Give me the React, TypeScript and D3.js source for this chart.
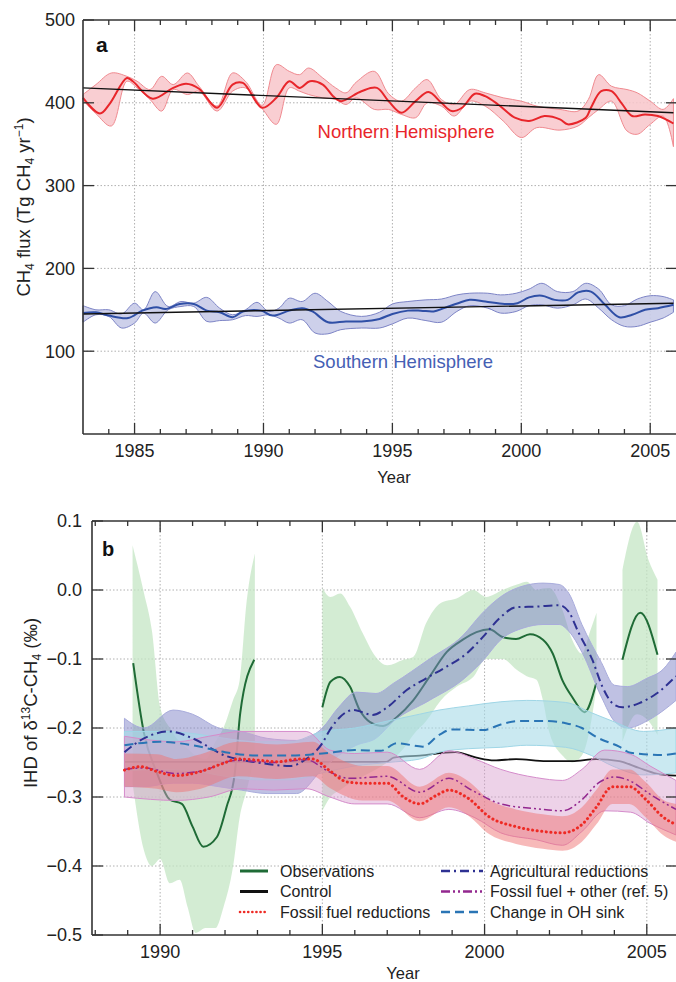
import React from 'react';
import * as d3 from 'd3';

// ---- panel a: CH4 flux, Tg CH4 per year ----
const NH_MEAN: [number, number][] = [
  [1983.0, 406], [1983.66, 387], [1984.04, 399], [1984.7, 430], [1984.93, 426], [1985.7, 405],
  [1986.5, 418], [1987.0, 423], [1987.5, 417], [1988.2, 394], [1988.8, 422], [1989.2, 424],
  [1989.95, 394], [1990.5, 406], [1991.0, 426], [1991.4, 418], [1991.8, 426], [1992.3, 422],
  [1992.7, 408], [1993.0, 402], [1993.8, 414], [1994.4, 418], [1994.85, 402], [1995.35, 388],
  [1995.9, 402], [1996.4, 413], [1996.9, 400], [1997.3, 390], [1997.7, 394], [1998.2, 411],
  [1998.6, 408], [1999.1, 398], [1999.75, 382], [2000.3, 378], [2000.9, 384], [2001.5, 380],
  [2001.8, 374], [2002.5, 382], [2002.7, 394], [2003.1, 414], [2003.5, 414], [2003.9, 399],
  [2004.3, 384], [2004.8, 386], [2005.3, 384], [2005.9, 375],
];
// [year, lower, upper]
const NH_BAND: [number, number, number][] = [
  [1983.0, 403, 410], [1983.5, 387, 422], [1984.1, 372, 436], [1984.7, 426, 432], [1985.1, 418, 426],
  [1985.6, 404, 416], [1986.05, 390, 432], [1986.5, 416, 422], [1987.05, 410, 436], [1987.5, 414, 420],
  [1988.2, 390, 396], [1988.8, 414, 436], [1989.3, 418, 426], [1989.95, 393, 397], [1990.5, 374, 446],
  [1991.0, 418, 438], [1991.4, 414, 434], [1991.75, 410, 442], [1992.3, 406, 430], [1992.8, 404, 418],
  [1993.2, 398, 412], [1993.6, 406, 425], [1994.3, 392, 438], [1994.85, 392, 411], [1995.35, 386, 402],
  [1995.9, 382, 418], [1996.35, 400, 428], [1996.9, 396, 404], [1997.4, 384, 398], [1998.0, 402, 416],
  [1998.6, 396, 412], [1999.3, 378, 406], [2000.0, 358, 402], [2000.6, 370, 396], [2001.5, 367, 392],
  [2002.2, 372, 390], [2002.6, 382, 404], [2003.0, 392, 434], [2003.5, 402, 420], [2004.1, 366, 416],
  [2004.5, 362, 412], [2005.0, 374, 402], [2005.5, 384, 392], [2005.9, 347, 405],
];
const NH_TREND: [number, number][] = [[1983, 418], [2005.9, 388]];

const SH_MEAN: [number, number][] = [
  [1983.0, 146], [1983.5, 147], [1984.0, 143], [1984.75, 140], [1985.3, 149], [1985.85, 153],
  [1986.2, 151], [1986.75, 157], [1987.3, 157], [1987.8, 149], [1988.3, 147], [1988.8, 141],
  [1989.2, 148], [1989.9, 149], [1990.35, 143], [1991.0, 149], [1991.5, 152], [1991.9, 148],
  [1992.5, 135], [1993.2, 136], [1993.8, 136], [1994.5, 139], [1995.0, 145], [1995.6, 149],
  [1996.1, 149], [1996.6, 148], [1997.0, 152], [1997.55, 158], [1998.0, 162], [1998.6, 160],
  [1999.35, 157], [1999.85, 158], [2000.3, 165], [2000.8, 167], [2001.3, 162], [2001.8, 162],
  [2002.2, 171], [2002.7, 172], [2003.25, 156], [2003.8, 141], [2004.3, 144], [2004.8, 150],
  [2005.3, 152], [2005.9, 156],
];
const SH_BAND: [number, number, number][] = [
  [1983.0, 135, 155], [1983.5, 144, 150], [1984.0, 142, 150], [1984.5, 128, 145], [1985.0, 134, 158],
  [1985.35, 146, 150], [1985.8, 134, 172], [1986.3, 150, 154], [1986.8, 154, 160], [1987.3, 154, 158],
  [1987.8, 136, 165], [1988.3, 137, 152], [1988.8, 138, 144], [1989.3, 143, 150], [1989.75, 142, 159],
  [1990.2, 144, 148], [1990.6, 140, 152], [1991.0, 134, 164], [1991.5, 138, 160], [1992.0, 122, 170],
  [1992.5, 121, 160], [1993.0, 126, 148], [1993.8, 128, 142], [1994.5, 128, 147], [1995.0, 133, 157],
  [1995.6, 140, 160], [1996.3, 137, 162], [1996.9, 135, 163], [1997.5, 148, 168], [1998.0, 155, 170],
  [1998.7, 152, 170], [1999.2, 146, 168], [1999.8, 148, 170], [2000.3, 155, 175], [2000.8, 156, 182],
  [2001.4, 152, 172], [2002.0, 156, 172], [2002.5, 163, 182], [2003.0, 152, 175], [2003.5, 138, 156],
  [2004.0, 130, 155], [2004.5, 130, 163], [2005.0, 135, 167], [2005.5, 140, 166], [2005.9, 147, 162],
];
const SH_TREND: [number, number][] = [[1983, 145], [2005.9, 158]];

const YEAR_TICKS_A = [1985, 1990, 1995, 2000, 2005];
const FLUX_TICKS = [100, 200, 300, 400, 500];

// ---- panel b: IHD of d13C-CH4, per mil ----
const OBS_LINE: [number, number][][] = [
  [[1989.17, -0.106], [1989.5, -0.207], [1989.9, -0.265], [1990.3, -0.304], [1990.67, -0.31],
   [1991.0, -0.343], [1991.33, -0.372], [1991.75, -0.358], [1992.05, -0.314], [1992.3, -0.266],
   [1992.47, -0.178], [1992.9, -0.101]],
  [[1995.0, -0.17], [1995.25, -0.133], [1995.54, -0.126], [1995.85, -0.14], [1996.15, -0.174],
   [1996.46, -0.191], [1996.87, -0.197], [1997.3, -0.184], [1997.8, -0.16], [1998.3, -0.126],
   [1998.83, -0.09], [1999.33, -0.072], [1999.75, -0.061], [2000.15, -0.057], [2000.55, -0.068],
   [2000.97, -0.071], [2001.4, -0.064], [2001.8, -0.072], [2002.1, -0.092], [2002.4, -0.131],
   [2002.7, -0.155], [2003.08, -0.177], [2003.44, -0.135]],
  [[2004.25, -0.101], [2004.8, -0.033], [2005.33, -0.094]],
];
const OBS_BAND: [number, number, number][][] = [
  [[1989.15, -0.28, 0.065], [1989.5, -0.377, -0.004], [1989.75, -0.4, -0.06], [1990.0, -0.39, -0.17],
   [1990.3, -0.425, -0.2], [1990.6, -0.42, -0.22], [1990.85, -0.46, -0.23], [1991.1, -0.497, -0.24],
   [1991.4, -0.49, -0.245], [1991.7, -0.49, -0.22], [1991.95, -0.46, -0.2], [1992.25, -0.4, -0.159],
   [1992.45, -0.33, -0.131], [1992.67, -0.29, -0.015], [1992.92, -0.24, 0.053]],
  [[1995.0, -0.32, 0.003], [1995.25, -0.3, -0.01], [1995.55, -0.29, -0.005], [1995.85, -0.28, -0.024],
   [1996.25, -0.27, -0.063], [1996.65, -0.26, -0.097], [1997.0, -0.25, -0.109], [1997.5, -0.23, -0.101],
   [1997.8, -0.21, -0.097], [1998.2, -0.19, -0.048], [1998.65, -0.16, -0.019], [1999.15, -0.14, -0.012],
   [1999.65, -0.126, 0.0], [2000.05, -0.1, -0.01], [2000.55, -0.1, 0.0], [2001.0, -0.116, 0.008],
   [2001.3, -0.125, 0.012], [2001.6, -0.13, 0.0], [2001.8, -0.16, 0.002], [2002.0, -0.207, 0.003],
   [2002.4, -0.24, -0.029], [2002.7, -0.25, -0.072], [2003.0, -0.24, -0.092], [2003.25, -0.2, -0.06],
   [2003.45, -0.14, -0.033]],
  [[2004.25, -0.22, 0.029], [2004.7, -0.18, 0.099], [2005.05, -0.19, 0.044], [2005.33, -0.21, 0.015]],
];

const CONTROL: [number, number][] = [
  [1988.9, -0.249], [1995.0, -0.249], [1996.97, -0.249], [1997.2, -0.243], [1998.0, -0.24],
  [1999.1, -0.235], [1999.75, -0.243], [2000.3, -0.247], [2000.97, -0.245], [2001.9, -0.248],
  [2002.7, -0.248], [2003.44, -0.245], [2004.15, -0.248], [2004.77, -0.258], [2005.3, -0.266],
  [2005.9, -0.269],
];

const AGRI: [number, number][] = [
  [1988.9, -0.235], [1989.5, -0.215], [1990.3, -0.205], [1991.0, -0.215], [1992.0, -0.24],
  [1993.0, -0.25], [1994.0, -0.255], [1994.5, -0.245], [1995.0, -0.222], [1995.23, -0.203],
  [1995.95, -0.174], [1996.55, -0.181], [1997.0, -0.17], [1997.6, -0.145], [1998.2, -0.128],
  [1998.83, -0.111], [1999.45, -0.092], [1999.95, -0.068], [2000.46, -0.041], [2000.97, -0.025],
  [2001.6, -0.024], [2002.3, -0.022], [2002.6, -0.032], [2002.9, -0.062], [2003.32, -0.101],
  [2003.63, -0.14], [2003.94, -0.164], [2004.25, -0.17], [2004.77, -0.164], [2005.3, -0.15],
  [2005.9, -0.125],
];
const AGRI_BAND: [number, number, number][] = [
  [1988.9, -0.285, -0.186], [1989.5, -0.285, -0.2], [1990.4, -0.28, -0.174], [1991.0, -0.28, -0.18],
  [1991.8, -0.285, -0.2], [1992.5, -0.29, -0.205], [1993.3, -0.295, -0.215], [1994.2, -0.295, -0.218],
  [1995.0, -0.26, -0.2], [1995.5, -0.24, -0.17], [1996.05, -0.225, -0.148], [1996.65, -0.215, -0.15],
  [1997.2, -0.19, -0.135], [1998.3, -0.16, -0.1], [1999.33, -0.13, -0.066], [1999.9, -0.105, -0.035],
  [2000.55, -0.07, -0.008], [2001.2, -0.055, 0.006], [2001.8, -0.05, 0.01], [2002.3, -0.05, 0.008],
  [2002.6, -0.06, -0.005], [2003.0, -0.09, -0.05], [2003.6, -0.155, -0.105], [2004.0, -0.19, -0.138],
  [2004.4, -0.2, -0.14], [2005.0, -0.19, -0.128], [2005.5, -0.175, -0.115], [2005.9, -0.16, -0.09],
];

const OH_SINK: [number, number][] = [
  [1988.9, -0.225], [1990.0, -0.22], [1991.0, -0.225], [1992.0, -0.235], [1993.0, -0.24],
  [1994.0, -0.24], [1995.0, -0.237], [1996.0, -0.232], [1996.8, -0.233], [1997.3, -0.222],
  [1998.1, -0.227], [1998.6, -0.21], [1999.0, -0.202], [1999.95, -0.203], [2000.5, -0.195],
  [2001.0, -0.19], [2001.9, -0.19], [2002.5, -0.193], [2003.0, -0.2], [2003.44, -0.213],
  [2004.15, -0.227], [2004.5, -0.236], [2005.5, -0.239], [2005.9, -0.237],
];
const OH_BAND: [number, number, number][] = [
  [1988.9, -0.262, -0.205], [1990.0, -0.26, -0.205], [1991.0, -0.262, -0.208], [1992.0, -0.27, -0.215],
  [1993.0, -0.275, -0.22], [1994.0, -0.275, -0.22], [1995.0, -0.265, -0.205], [1996.0, -0.255, -0.2],
  [1997.0, -0.25, -0.19], [1998.0, -0.245, -0.18], [1998.6, -0.235, -0.174], [1999.5, -0.23, -0.168],
  [2000.5, -0.228, -0.162], [2001.3, -0.225, -0.16], [2002.5, -0.228, -0.163], [2003.3, -0.24, -0.178],
  [2003.94, -0.255, -0.19], [2004.9, -0.268, -0.205], [2005.9, -0.265, -0.2],
];

const FOSSIL: [number, number][] = [
  [1988.9, -0.261], [1989.4, -0.256], [1989.9, -0.263], [1990.5, -0.269], [1991.25, -0.263],
  [1991.9, -0.252], [1992.4, -0.245], [1993.1, -0.247], [1993.6, -0.249], [1994.3, -0.245],
  [1994.7, -0.245], [1995.23, -0.262], [1995.75, -0.278], [1996.25, -0.28], [1997.0, -0.28],
  [1997.5, -0.3], [1998.0, -0.31], [1998.5, -0.298], [1998.9, -0.29], [1999.5, -0.302],
  [2000.15, -0.329], [2000.97, -0.343], [2001.8, -0.35], [2002.4, -0.352], [2003.0, -0.34],
  [2003.44, -0.315], [2003.94, -0.285], [2004.46, -0.285], [2004.98, -0.304], [2005.5, -0.329],
  [2005.9, -0.34],
];
const FOSSIL_BAND: [number, number, number][] = [
  [1988.9, -0.285, -0.237], [1989.9, -0.288, -0.238], [1990.5, -0.293, -0.245], [1991.25, -0.288, -0.238],
  [1992.4, -0.27, -0.22], [1993.6, -0.274, -0.224], [1994.7, -0.27, -0.22], [1995.23, -0.287, -0.237],
  [1996.25, -0.305, -0.255], [1997.0, -0.305, -0.255], [1998.0, -0.335, -0.285], [1998.9, -0.315, -0.265],
  [1999.5, -0.327, -0.277], [2000.15, -0.354, -0.304], [2000.97, -0.368, -0.318], [2001.8, -0.375, -0.325],
  [2002.4, -0.378, -0.328], [2003.0, -0.365, -0.315], [2003.44, -0.34, -0.29], [2003.94, -0.31, -0.26],
  [2004.46, -0.31, -0.26], [2004.98, -0.33, -0.279], [2005.5, -0.355, -0.304], [2005.9, -0.365, -0.31],
];

const FOSSIL_OTHER: [number, number][] = [
  [1988.9, -0.26], [1989.5, -0.258], [1990.5, -0.266], [1991.3, -0.262], [1992.3, -0.247],
  [1993.5, -0.25], [1994.5, -0.246], [1995.23, -0.264], [1995.85, -0.273], [1997.0, -0.27],
  [1998.0, -0.293], [1998.9, -0.273], [1999.6, -0.29], [2000.5, -0.31], [2001.6, -0.317],
  [2002.4, -0.32], [2003.0, -0.304], [2003.5, -0.28], [2004.0, -0.271], [2004.5, -0.277],
  [2005.1, -0.296], [2005.9, -0.318],
];
const FOSSIL_OTHER_BAND: [number, number, number][] = [
  [1988.9, -0.3, -0.212], [1990.5, -0.305, -0.22], [1991.5, -0.3, -0.212], [1992.5, -0.288, -0.205],
  [1993.5, -0.29, -0.205], [1994.5, -0.288, -0.205], [1995.23, -0.3, -0.232], [1996.0, -0.31, -0.237],
  [1997.0, -0.31, -0.235], [1998.0, -0.33, -0.26], [1998.9, -0.318, -0.233], [1999.7, -0.33, -0.245],
  [2000.5, -0.352, -0.26], [2001.6, -0.362, -0.272], [2002.4, -0.37, -0.276], [2003.0, -0.35, -0.26],
  [2003.7, -0.32, -0.232], [2004.5, -0.322, -0.238], [2005.1, -0.338, -0.255], [2005.9, -0.355, -0.276],
];

const YEAR_TICKS_B = [1990, 1995, 2000, 2005];
const IHD_TICKS = [-0.5, -0.4, -0.3, -0.2, -0.1, 0.0, 0.1];

const FONT = '"Liberation Sans", Arial, Helvetica, sans-serif';
const AXIS = '#333';
const GRID = '#b0b0b0';
const TICK_FS = 18;

type P = [number, number];
type B = [number, number, number];
type Lin = d3.ScaleLinear<number, number>;

function Grid({ x, y, xMajor, gridY }: { x: Lin; y: Lin; xMajor: number[]; gridY: number[] }) {
  const [x0, x1] = x.range();
  const [y0, y1] = y.range();
  return (
    <g>
      {xMajor.map(v => (
        <line key={'gx' + v} x1={x(v)} x2={x(v)} y1={y1} y2={y0} stroke={GRID} strokeWidth={1} strokeDasharray="1.5,2" />
      ))}
      {gridY.map(v => (
        <line key={'gy' + v} x1={x0} x2={x1} y1={y(v)} y2={y(v)} stroke={GRID} strokeWidth={1} strokeDasharray="1.5,2" />
      ))}
    </g>
  );
}

function Axes({ x, y, xMajor, yMajor, yFmt, minorFrom, minorTo, rightTicks, labelGap }: {
  x: Lin; y: Lin; xMajor: number[]; yMajor: number[]; yFmt: (v: number) => string;
  minorFrom: number; minorTo: number; rightTicks: number[]; labelGap: number;
}) {
  const [x0, x1] = x.range();
  const [y0, y1] = y.range();
  const minor = d3.range(minorFrom, minorTo + 1);
  return (
    <g fontFamily={FONT} fill="#222">
      <line x1={x0} x2={x1} y1={y0} y2={y0} stroke={AXIS} strokeWidth={1.6} />
      <line x1={x0} x2={x1} y1={y1} y2={y1} stroke={AXIS} strokeWidth={1.6} />
      <line x1={x0} x2={x0} y1={y0} y2={y1} stroke={AXIS} strokeWidth={1.6} />
      {minor.map(v => {
        const len = xMajor.includes(v) ? 11 : 5;
        return (
          <g key={'t' + v}>
            <line x1={x(v)} x2={x(v)} y1={y0} y2={y0 - len} stroke={AXIS} strokeWidth={1.3} />
            <line x1={x(v)} x2={x(v)} y1={y1} y2={y1 + len} stroke={AXIS} strokeWidth={1.3} />
          </g>
        );
      })}
      {xMajor.map(v => (
        <text key={'xl' + v} x={x(v)} y={y0 + 23} textAnchor="middle" fontSize={TICK_FS}>{v}</text>
      ))}
      {yMajor.map(v => (
        <g key={'yl' + v}>
          <line x1={x0} x2={x0 + 11} y1={y(v)} y2={y(v)} stroke={AXIS} strokeWidth={1.3} />
          <text x={x0 - labelGap} y={y(v)} dy="0.35em" textAnchor="end" fontSize={TICK_FS}>{yFmt(v)}</text>
        </g>
      ))}
      {rightTicks.map(v => (
        <line key={'r' + v} x1={x1 - 10} x2={x1} y1={y(v)} y2={y(v)} stroke={AXIS} strokeWidth={1.3} />
      ))}
    </g>
  );
}

function PanelA() {
  const x = d3.scaleLinear().domain([1983, 2006]).range([83, 676]);
  const y = d3.scaleLinear().domain([0, 500]).range([434, 20]);
  const line = d3.line<P>().x(d => x(d[0])).y(d => y(d[1])).curve(d3.curveCatmullRom.alpha(0.5));
  const area = d3.area<B>().x(d => x(d[0])).y0(d => y(d[1])).y1(d => y(d[2])).curve(d3.curveCatmullRom.alpha(0.5));
  const straight = d3.line<P>().x(d => x(d[0])).y(d => y(d[1]));
  return (
    <g>
      <Grid x={x} y={y} xMajor={YEAR_TICKS_A} gridY={[100, 200, 300, 400]} />
      <path d={area(NH_BAND) || ''} fill="#f8c6ca" fillOpacity={0.85} stroke="#f08a90" strokeWidth={1} />
      <path d={line(NH_MEAN) || ''} fill="none" stroke="#e8262b" strokeWidth={2} />
      <path d={straight(NH_TREND) || ''} fill="none" stroke="#111" strokeWidth={1.4} />
      <path d={area(SH_BAND) || ''} fill="#c8cbe8" fillOpacity={0.9} stroke="#7d84c6" strokeWidth={1} />
      <path d={line(SH_MEAN) || ''} fill="none" stroke="#2f4fa6" strokeWidth={2} />
      <path d={straight(SH_TREND) || ''} fill="none" stroke="#111" strokeWidth={1.4} />
      <Axes x={x} y={y} xMajor={YEAR_TICKS_A} yMajor={FLUX_TICKS} yFmt={String} minorFrom={1984} minorTo={2005}
        rightTicks={[100, 200, 300, 400]} labelGap={8} />
      <g fontFamily={FONT}>
        <text x={96} y={52} fontSize={21} fontWeight="bold" fill="#111">a</text>
        <text x={406} y={138} textAnchor="middle" fontSize={18.5} fill="#e8262b">Northern Hemisphere</text>
        <text x={403} y={368} textAnchor="middle" fontSize={18.5} fill="#4560b4">Southern Hemisphere</text>
        <text x={394} y={483} textAnchor="middle" fontSize={16.5} fill="#222">Year</text>
        <text transform="translate(30,207) rotate(-90)" textAnchor="middle" fontSize={18.5} fill="#222">
          CH<tspan fontSize={12} dy={4}>4</tspan><tspan dy={-4}> flux (Tg CH</tspan><tspan fontSize={12} dy={4}>4</tspan>
          <tspan dy={-4}>  yr</tspan><tspan fontSize={12} dy={-7}>−1</tspan><tspan dy={7}>)</tspan>
        </text>
      </g>
    </g>
  );
}

function PanelB() {
  const x = d3.scaleLinear().domain([1987.9, 2005.9]).range([92, 676]);
  const y = d3.scaleLinear().domain([-0.5, 0.1]).range([935, 521]);
  const line = d3.line<P>().x(d => x(d[0])).y(d => y(d[1])).curve(d3.curveMonotoneX);
  const area = d3.area<B>().x(d => x(d[0])).y0(d => y(d[1])).y1(d => y(d[2])).curve(d3.curveMonotoneX);
  const fmt = d3.format('.1f');
  const legendL = [
    { label: 'Observations', stroke: '#1f6b36', dash: '', w: 3 },
    { label: 'Control', stroke: '#111', dash: '', w: 3 },
    { label: 'Fossil fuel reductions', stroke: '#ee2a24', dash: '0.1,4', w: 2.6 },
  ];
  const legendR = [
    { label: 'Agricultural reductions', stroke: '#2e3192', dash: '9,4,2,4', w: 2.6 },
    { label: 'Fossil fuel + other (ref. 5)', stroke: '#93278f', dash: '9,3,2,3,2,3', w: 2.6 },
    { label: 'Change in OH sink', stroke: '#2a75b5', dash: '9,5', w: 2.6 },
  ];
  return (
    <g>
      <Grid x={x} y={y} xMajor={YEAR_TICKS_B} gridY={[-0.4, -0.3, -0.2, -0.1, 0.0]} />
      {OBS_BAND.map((seg, i) => (
        <path key={'ob' + i} d={area(seg) || ''} fill="#c4e6c4" fillOpacity={0.75} />
      ))}
      {OBS_LINE.map((seg, i) => (
        <path key={'ol' + i} d={line(seg) || ''} fill="none" stroke="#1f6b36" strokeWidth={2} />
      ))}
      <path d={line(CONTROL) || ''} fill="none" stroke="#111" strokeWidth={1.8} />
      <path d={area(AGRI_BAND) || ''} fill="#7f83c8" fillOpacity={0.5} stroke="#a9acdc" strokeWidth={1} />
      <path d={area(OH_BAND) || ''} fill="#a6dbe8" fillOpacity={0.6} stroke="#9fd6e6" strokeWidth={1} />
      <path d={area(FOSSIL_OTHER_BAND) || ''} fill="#d79ccb" fillOpacity={0.45} stroke="#d58ccb" strokeWidth={1} />
      <path d={area(FOSSIL_BAND) || ''} fill="#ef7474" fillOpacity={0.5} />
      <path d={line(AGRI) || ''} fill="none" stroke="#2e3192" strokeWidth={2} strokeDasharray="9,4,2,4" />
      <path d={line(OH_SINK) || ''} fill="none" stroke="#2a75b5" strokeWidth={2} strokeDasharray="9,5" />
      <path d={line(FOSSIL_OTHER) || ''} fill="none" stroke="#93278f" strokeWidth={1.5} strokeDasharray="8,3,2,3,2,3" />
      <path d={line(FOSSIL) || ''} fill="none" stroke="#ee2a24" strokeWidth={3} strokeDasharray="0.1,4.5" strokeLinecap="round" />
      <Axes x={x} y={y} xMajor={YEAR_TICKS_B} yMajor={IHD_TICKS} yFmt={fmt} minorFrom={1988} minorTo={2005}
        rightTicks={[-0.4, -0.3, -0.2, -0.1, 0.0]} labelGap={10} />
      <g fontFamily={FONT} fill="#222">
        <text x={102} y={556} fontSize={20} fontWeight="bold" fill="#111">b</text>
        {legendL.map((d, i) => (
          <g key={d.label}>
            <line x1={240} x2={268} y1={871 + i * 20.5} y2={871 + i * 20.5} stroke={d.stroke} strokeWidth={d.w}
              strokeDasharray={d.dash || undefined} strokeLinecap={d.dash ? 'round' : 'butt'} />
            <text x={280} y={871 + i * 20.5} dy="0.35em" fontSize={16}>{d.label}</text>
          </g>
        ))}
        {legendR.map((d, i) => (
          <g key={d.label}>
            <line x1={441} x2={483} y1={871 + i * 20.5} y2={871 + i * 20.5} stroke={d.stroke} strokeWidth={d.w}
              strokeDasharray={d.dash} />
            <text x={490} y={871 + i * 20.5} dy="0.35em" fontSize={16}>{d.label}</text>
          </g>
        ))}
        <text x={403} y={979} textAnchor="middle" fontSize={16.5}>Year</text>
        <text transform="translate(37,703) rotate(-90)" textAnchor="middle" fontSize={18.5}>
          IHD of δ<tspan fontSize={12} dy={-7}>13</tspan><tspan dy={7}>C-CH</tspan><tspan fontSize={12} dy={4}>4</tspan>
          <tspan dy={-4}> (‰)</tspan>
        </text>
      </g>
    </g>
  );
}

export default function App() {
  return (
    <svg width={676} height={982} style={{ position: 'absolute', left: 0, top: 0, background: '#fff' }}>
      <rect width={676} height={982} fill="#fff" />
      <PanelA />
      <PanelB />
    </svg>
  );
}
